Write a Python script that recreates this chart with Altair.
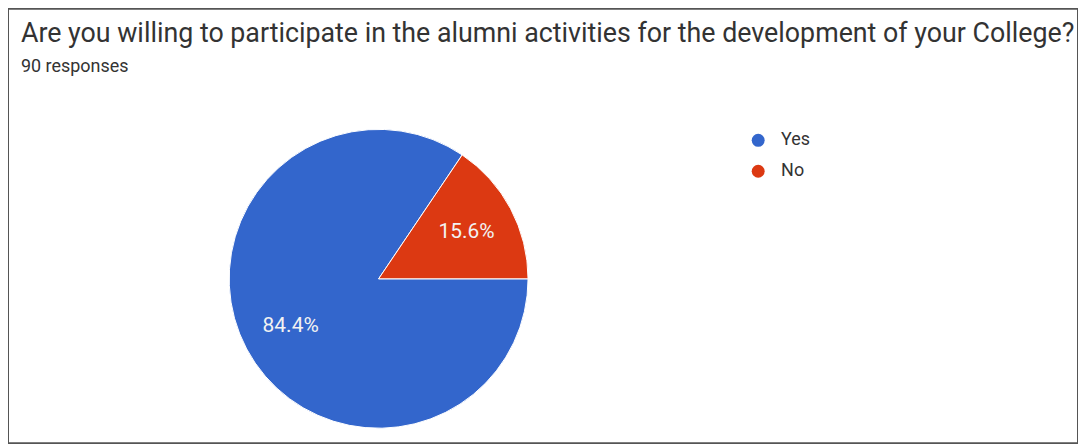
import math
import altair as alt
import pandas as pd

# ---- data ----
categories = ["Yes", "No"]
counts = [76, 14]            # 90 responses
pct_labels = ["84.4%", "15.6%"]
colors = ["#3366CC", "#DC3912"]
order = [0, 1]

title_text = "Are you willing to participate in the alumni activities for the development of your College?"
subtitle_text = "90 responses"

df = pd.DataFrame({"answer": categories, "count": counts, "label": pct_labels, "order": order})

theta = alt.Theta(
    "count:Q",
    stack=True,
    scale=alt.Scale(range=[math.pi / 2, math.pi / 2 + 2 * math.pi]),
)

cx, cy = 372, 271

base = alt.Chart(df).encode(theta=theta, order=alt.Order("order:Q"))

pie = base.mark_arc(outerRadius=150, stroke="white", strokeWidth=1).encode(
    color=alt.Color(
        "answer:N",
        sort=categories,
        scale=alt.Scale(domain=categories, range=colors),
        legend=alt.Legend(
            orient="none",
            legendX=744,
            legendY=123,
            title=None,
            symbolType="circle",
            symbolSize=169,
            symbolStrokeWidth=0,
            symbolOpacity=1,
            labelFont="Roboto",
            labelFontSize=18,
            labelColor="#333333",
            labelOffset=14,
            rowPadding=13,
            padding=0,
        ),
    ),
    x=alt.value(cx),
    y=alt.value(cy),
)

text = base.mark_text(radius=100, font="Roboto", fontSize=21, color="#f2f2f2").encode(
    text="label:N",
    x=alt.value(cx),
    y=alt.value(cy),
)

chart = (
    alt.layer(pie, text)
    .properties(
        width=1074,
        height=436,
        padding=0,
        background="white",
        title=alt.TitleParams(
            text=title_text,
            subtitle=subtitle_text,
            anchor="start",
            frame="group",
            orient="top",
            offset=-68,
            dx=13,
            font="Roboto",
            fontSize=26.9,
            fontWeight="normal",
            color="#333333",
            subtitleFont="Roboto",
            subtitleFontSize=18,
            subtitleColor="#333333",
            subtitlePadding=10,
        ),
    )
    .configure_view(stroke="#555555", strokeWidth=2)
)

chart.save("out.html", embed_options={"renderer": "svg", "actions": False})
